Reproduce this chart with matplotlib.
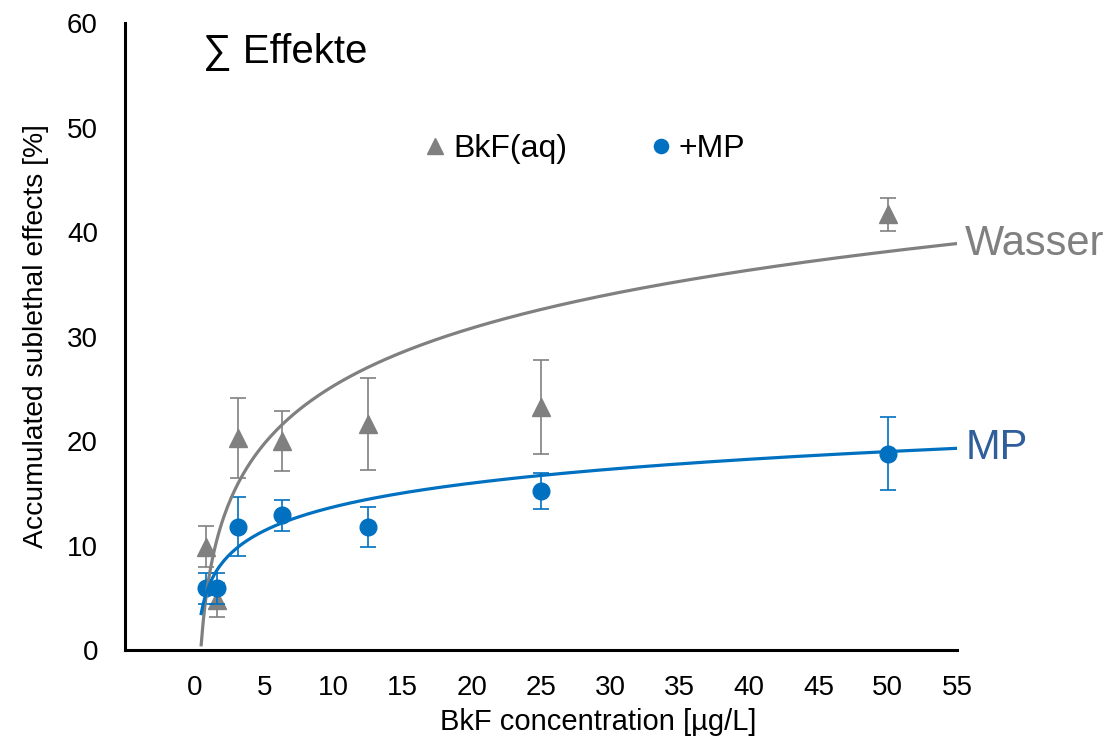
import numpy as np
import matplotlib
matplotlib.use("Agg")
import matplotlib.pyplot as plt

plt.rcParams['font.family'] = ['Liberation Sans', 'DejaVu Sans']

# BkF concentrations [µg/L]
conc = [0.78, 1.56, 3.125, 6.25, 12.5, 25, 50]

# Accumulated sublethal effects [%] with standard deviations
bkf_aq = [9.9, 4.8, 20.3, 20.0, 21.6, 23.3, 41.7]
bkf_aq_sd = [2.0, 1.6, 3.8, 2.9, 4.4, 4.5, 1.6]
bkf_mp = [5.9, 5.9, 11.8, 12.9, 11.8, 15.2, 18.8]
bkf_mp_sd = [1.5, 1.5, 2.8, 1.5, 1.9, 1.7, 3.5]

# Logarithmic trend lines y = a*ln(x) + b
wasser_a, wasser_b = 7.99, 6.88
mp_a, mp_b = 3.29, 6.12
trend_start, trend_end = 0.45, 55

x_ticks = [0, 5, 10, 15, 20, 25, 30, 35, 40, 45, 50, 55]
y_ticks = [0, 10, 20, 30, 40, 50, 60]

gray = '#808080'
blue = '#0070C0'

fig = plt.figure(figsize=(11.08, 7.44), dpi=100)
ax = fig.add_axes([0.1128, 0.1263, 0.7509, 0.8427])

ax.errorbar(conc, bkf_aq, yerr=bkf_aq_sd, fmt='^', color=gray, ms=13,
            ecolor=gray, elinewidth=1.2, capsize=6, capthick=1.2,
            label='BkF(aq)', zorder=3)
ax.errorbar(conc, bkf_mp, yerr=bkf_mp_sd, fmt='o', color=blue, ms=12,
            ecolor=blue, elinewidth=1.2, capsize=6, capthick=1.2,
            label='+MP', zorder=4)

xt = np.linspace(trend_start, trend_end, 400)
ax.plot(xt, wasser_a * np.log(xt) + wasser_b, color=gray, lw=2.3, zorder=5)
ax.plot(xt, mp_a * np.log(xt) + mp_b, color=blue, lw=2.3, zorder=5)

ax.text(55.6, wasser_a * np.log(55) + wasser_b, 'Wasser', color=gray,
        fontsize=30, va='center', ha='left', clip_on=False)
ax.text(55.6, mp_a * np.log(55) + mp_b, 'MP', color='#2F5E9A',
        fontsize=30, va='center', ha='left', clip_on=False)

ax.set_xlim(-5.05, 55)
ax.set_ylim(0, 60)
ax.set_xticks(x_ticks)
ax.set_yticks(y_ticks)
ax.tick_params(axis='both', length=0, labelsize=20)
ax.tick_params(axis='x', pad=18)
ax.tick_params(axis='y', pad=19.5)

for side in ('top', 'right'):
    ax.spines[side].set_visible(False)
for side in ('left', 'bottom'):
    ax.spines[side].set_linewidth(2.2)
    ax.spines[side].set_color('black')

ax.set_ylabel('Accumulated sublethal effects [%]', fontsize=20.3, labelpad=13)
fig.text(0.540, 0.030, 'BkF concentration [µg/L]', fontsize=21,
         ha='center', va='center')

handles, labels = ax.get_legend_handles_labels()
handles = [h[0] for h in handles]
ax.legend(handles, labels, loc='center', bbox_to_anchor=(0.525, 0.800),
          bbox_transform=fig.transFigure, ncol=2, frameon=False,
          fontsize=23, handletextpad=0.0, columnspacing=2.4,
          markerscale=0.85, handlelength=1.1)

fig.text(0.183, 0.930, '∑ Effekte', fontsize=29, ha='left', va='center')

fig.savefig('out.png', dpi=100)
